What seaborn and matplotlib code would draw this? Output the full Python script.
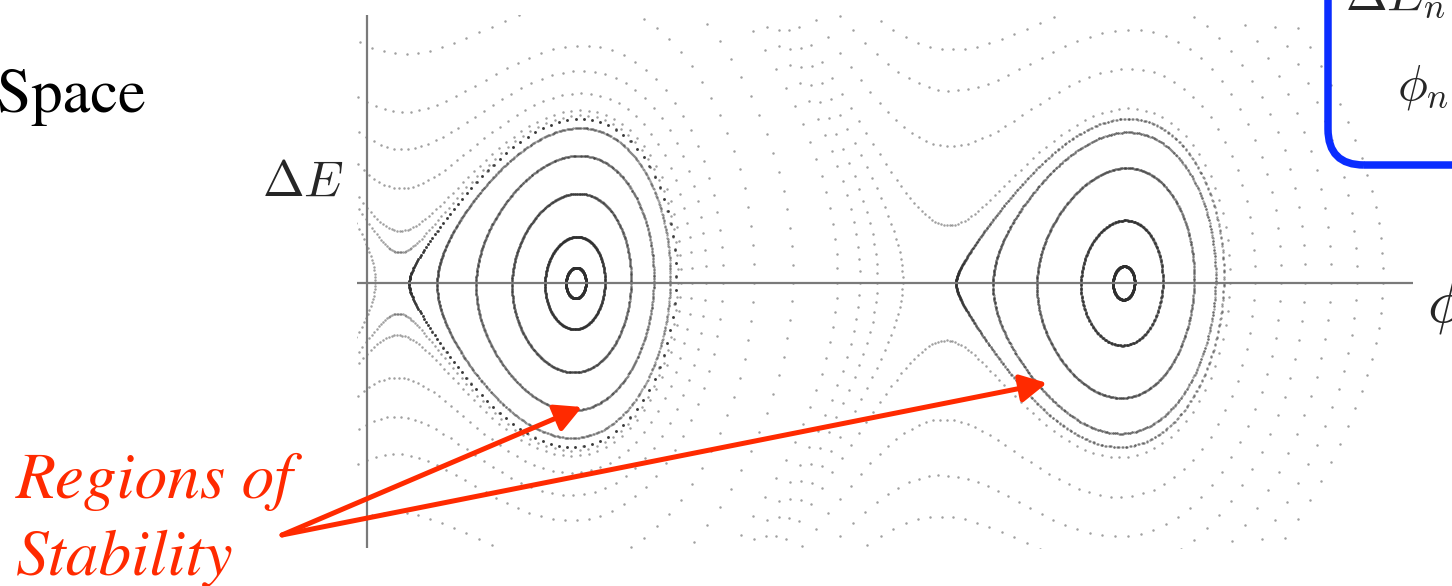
import numpy as np
import pandas as pd
import matplotlib
matplotlib.use("Agg")
import matplotlib.pyplot as plt
from matplotlib.patches import FancyBboxPatch
import seaborn as sns

# --- longitudinal tracking map:  dE' = dE - k (sin phi - sin phi_s),  phi' = phi + k dE'
phi_s = -0.556          # synchronous phase [rad]
kick_step = 0.085       # turn-to-turn strength of the map

# starting phases (on the dE = 0 axis) of orbits trapped in the two buckets
left_bucket_phases = [-0.671, -0.912, -1.290, -1.702, -2.149, -2.470]
right_bucket_phases = [5.602, 5.235, 4.730, 4.226, 3.802]
# turning phases (dE = 0) of the untrapped orbits
open_orbit_phases = [-2.86, 0.613, 0.650, 0.772, 0.934, 1.124, 1.487,
                     1.930, 2.440, 2.700, 2.900, 3.190,
                     6.945, 7.230, 7.530, 7.800, 8.100, 8.400, 8.700]

closed_turns = 700
phi_lim = (-3.068, 9.042)
de_lim = (-1.803, 1.823)
phi_axis_pos = -2.953

RED = "#ff2a00"
BLUE = "#0a2dff"
SERIF = "STIXGeneral"
W, H = 1452, 586


def kick(phi):
    return -kick_step * (np.sin(phi) - np.sin(phi_s))


def outside(phi, de):
    return phi < phi_lim[0] - 0.3 or phi > phi_lim[1] + 0.3 or abs(de) > 2.1


def track(phi, de, n, forward=True, stop_outside=False):
    pts = []
    for _ in range(n):
        if forward:
            de = de + kick(phi)
            phi = phi + kick_step * de
        else:
            phi = phi - kick_step * de
            de = de - kick(phi)
        if stop_outside and outside(phi, de):
            break
        pts.append((phi, de))
    return pts


rows = []
for p0 in left_bucket_phases + right_bucket_phases:
    rows += [(p, d, "trapped") for p, d in track(p0, 0.0, closed_turns)]
for p0 in open_orbit_phases:
    pts = [(p0, 0.0)]
    pts += track(p0, 0.0, 6000, True, True)
    pts += track(p0, 0.0, 6000, False, True)
    rows += [(p, d, "open") for p, d in pts]

orbits = pd.DataFrame(rows, columns=["phi", "dE", "kind"])

sns.set_theme(style="white")
plt.rcParams["mathtext.fontset"] = "cm"
plt.rcParams["font.family"] = [SERIF, "DejaVu Serif"]

fig = plt.figure(figsize=(W / 100, H / 100), dpi=100)
fig.patch.set_facecolor("white")


def fx(px):
    return px / W


def fy(py):
    return 1 - py / H


ax = fig.add_axes([fx(357), fy(548), fx(1413) - fx(357), fy(15) - fy(548)])
sns.scatterplot(data=orbits, x="phi", y="dE", s=3.2, color="#2e2e2e",
                alpha=0.45, linewidth=0, legend=False, ax=ax)
ax.set_xlim(*phi_lim)
ax.set_ylim(*de_lim)
ax.axhline(0, color="#7a7a7a", lw=1.6, zorder=3)
ax.axvline(phi_axis_pos, color="#7a7a7a", lw=1.6, zorder=3)
ax.set_axis_off()

# axis labels
fig.text(fx(262), fy(196), r"$\Delta E$", fontsize=36, ha="left", va="baseline")
fig.text(fx(1427), fy(321), r"$\phi$", fontsize=43, ha="left", va="baseline")

# slide title fragment
fig.text(fx(146), fy(112), "Phase Space", fontsize=45, family=SERIF,
         ha="right", va="baseline", color="black")

# annotation
fig.text(fx(16), fy(498), "Regions of", fontsize=47, style="italic", color=RED,
         family=SERIF, ha="left", va="baseline")
fig.text(fx(16), fy(575), "Stability", fontsize=47, style="italic", color=RED,
         family=SERIF, ha="left", va="baseline")
arrow_props = dict(arrowstyle="-|>,head_length=0.8,head_width=0.42",
                   mutation_scale=20, lw=3.6, color=RED, shrinkA=0, shrinkB=0)
for tip in [(582, 407), (1047, 383)]:
    ax.annotate("", xy=(fx(tip[0]), fy(tip[1])), xytext=(fx(282), fy(535)),
                xycoords="figure fraction", textcoords="figure fraction",
                arrowprops=arrow_props, annotation_clip=False)

# equation box
box = FancyBboxPatch((1328 / 100, (H - 165) / 100), 4.0, 3.0,
                     boxstyle="round,pad=0,rounding_size=0.36",
                     transform=fig.dpi_scale_trans, facecolor="none",
                     edgecolor=BLUE, lw=5.4, clip_on=False)
fig.add_artist(box)
fig.text(fx(1345), fy(10), r"$\Delta E_{n+1} = \Delta E_n + eV(\sin\phi_n - \sin\phi_s)$",
         fontsize=36, ha="left", va="baseline")
fig.text(fx(1397), fy(100), r"$\phi_{n+1} = \phi_n + k\,\Delta E_{n+1}$",
         fontsize=36, ha="left", va="baseline")

fig.savefig("out.png", dpi=100, facecolor="white")
